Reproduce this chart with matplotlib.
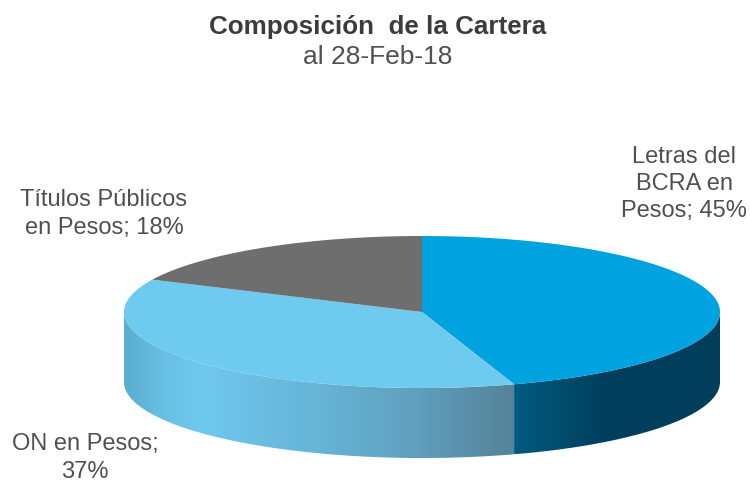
import numpy as np
import matplotlib.pyplot as plt
from matplotlib.colors import LinearSegmentedColormap
from matplotlib.patches import Polygon

# Data
labels = ["Letras del\nBCRA en\nPesos; 45%", "ON en Pesos;\n37%", "Títulos Públicos\nen Pesos; 18%"]
shares = [45, 37, 18]
top_colors = ["#00a3e0", "#6fcaf0", "#6e6e6e"]

plt.rcParams["font.family"] = ["Liberation Sans", "DejaVu Sans"]

fig = plt.figure(figsize=(7.5, 4.84), dpi=100)
ax = fig.add_axes([0, 0, 1, 1])

# Pie geometry
cx, cy = 422, 312
rx, ry = 298, 76
depth = 70

# Side wall shading, left to right along x
cmap_on = LinearSegmentedColormap.from_list(
    "on", [(0, "#5aaed0"), (0.1, "#68c0e4"), (0.2, "#6fc8ee"), (0.5, "#66b4d6"), (0.75, "#609fbd"), (1, "#558298")])
cmap_letras = LinearSegmentedColormap.from_list(
    "letras", [(0, "#005a80"), (0.45, "#003f5c"), (1, "#003e5c")])

edges = np.cumsum([0] + shares) / sum(shares) * 2 * np.pi


def point(angle):
    # angle runs clockwise from the top of the ellipse
    return cx + rx * np.sin(angle), cy - ry * np.cos(angle)


def side_wall(a0, a1, cmap):
    # gradient image clipped to the wall of one slice
    ang = np.linspace(a0, a1, 200)
    xs, ys = point(ang)
    poly = Polygon(np.c_[np.r_[xs, xs[::-1]], np.r_[ys, ys[::-1] + depth]], transform=ax.transData, fc="none", lw=0)
    ax.add_patch(poly)
    grad = np.linspace(0, 1, 256).reshape(1, -1)
    im = ax.imshow(grad, cmap=cmap, extent=[xs.min(), xs.max(), ys.max() + depth, ys.min()], aspect="auto", zorder=1)
    im.set_clip_path(poly)


# Only the front half of the wall shows
side_wall(np.pi / 2, edges[1], cmap_letras)
side_wall(edges[1], 3 * np.pi / 2, cmap_on)

# Top face
for i in range(len(shares)):
    ang = np.linspace(edges[i], edges[i + 1], 200)
    xs, ys = point(ang)
    ax.fill(np.r_[cx, xs], np.r_[cy, ys], color=top_colors[i], lw=0, zorder=2)

ax.set_xlim(0, 750)
ax.set_ylim(484, 0)
ax.axis("off")

# Title
ax.text(378, 27, "Composición  de la Cartera", ha="center", va="center", fontsize=18.7, fontweight="bold", color="#3c3c3c")
ax.text(378, 57, "al 28-Feb-18", ha="center", va="center", fontsize=19, color="#505050")

# Slice labels
label_pos = [(684, 184), (85, 458), (104, 214)]
for lab, (x, y) in zip(labels, label_pos):
    ax.text(x, y, lab, ha="center", va="center", fontsize=17, color="#505050", linespacing=1.3)

fig.savefig("out.png", dpi=100)
